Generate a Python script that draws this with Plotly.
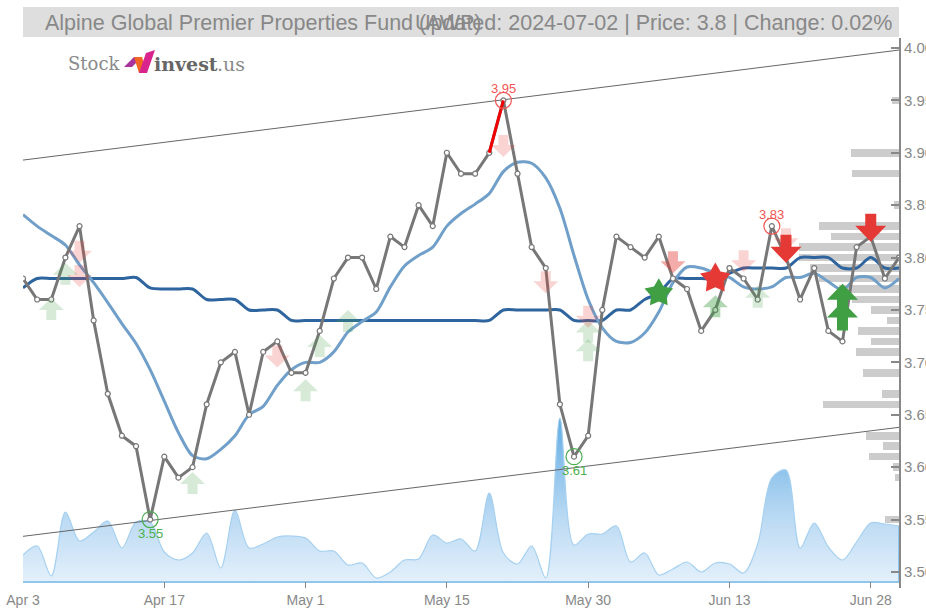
import math
import plotly.graph_objects as go

# ---------- data ----------
price = [3.78,3.76,3.76,3.80,3.83,3.74,3.67,3.63,3.62,3.55,3.61,3.59,3.60,3.66,3.70,3.71,3.65,3.71,3.72,3.69,3.69,
         3.73,3.78,3.80,3.80,3.77,3.82,3.81,3.85,3.83,3.90,3.88,3.88,3.90,3.95,3.88,3.81,3.79,3.66,3.61,3.63,
         3.75,3.82,3.81,3.80,3.82,3.78,3.77,3.73,3.75,3.79,3.78,3.76,3.83,3.80,3.76,3.79,3.73,3.72,3.81,3.82,3.78,3.80]
ma_fast = [3.841,3.830,3.821,3.812,3.793,3.776,3.757,3.737,3.718,3.693,3.663,3.633,3.611,3.608,3.617,3.630,3.650,3.658,
           3.678,3.693,3.700,3.700,3.710,3.729,3.739,3.748,3.772,3.792,3.802,3.810,3.830,3.842,3.851,3.861,3.882,3.891,
           3.890,3.876,3.847,3.802,3.760,3.733,3.720,3.719,3.728,3.748,3.776,3.791,3.790,3.785,3.781,3.772,3.770,3.772,
           3.781,3.781,3.785,3.777,3.769,3.781,3.781,3.771,3.780]
ma_slow = [3.771,3.78,3.78,3.78,3.78,3.78,3.78,3.78,3.781,3.771,3.77,3.77,3.77,3.76,3.76,3.76,3.75,3.75,3.75,3.74,3.74,
           3.74,3.74,3.74,3.74,3.74,3.74,3.74,3.74,3.74,3.74,3.74,3.74,3.74,3.75,3.75,3.75,3.75,3.75,3.74,3.74,
           3.74,3.75,3.75,3.76,3.766,3.78,3.78,3.78,3.78,3.785,3.79,3.79,3.79,3.79,3.80,3.80,3.80,3.79,3.79,3.80,3.79,3.79]
volume = [27,36,6,70,41,50,61,34,60,60,30,22,29,49,14,72,34,38,45,46,44,31,31,17,19,4,10,22,23,47,39,43,31,89,29,18,
          36,4,164,37,48,48,56,20,29,7,13,20,10,19,18,9,38,104,112,34,59,35,22,40,59,58,56]
tick_idx = [0,10,20,30,40,50,60]
tick_labels = ["Apr 3","Apr 17","May 1","May 15","May 30","Jun 13","Jun 28"]
price_ticks = [3.50,3.55,3.60,3.65,3.70,3.75,3.80,3.85,3.90,3.95,4.00]

profile_price = [3.95,3.90,3.88,3.85,3.83,3.82,3.81,3.80,3.79,3.78,3.77,3.76,3.75,3.74,3.73,3.72,3.71,3.69,3.67,3.66,
                 3.63,3.62,3.61,3.60,3.59,3.55]
profile_size = [7,48,47,5,80,68,100,100,89,80,60,47,28,12,41,28,43,36,17,76,33,16,30,6,4,14]

channel_up = [3.893,3.998]
channel_low = [3.534,3.638]
channel_idx = [0,62]

high_idx = [34,53]
low_idx = [9,39]

up_weak_idx = [2,3,12,20,21,23,40,40,52]
up_weak_val = [3.7615,3.795,3.5954,3.684,3.726,3.75,3.74,3.722,3.773]
up_mid_idx = [49]
up_mid_val = [3.764]
down_weak_idx = [4,4,18,34,37,40,51,54]
down_weak_val = [3.795,3.772,3.695,3.896,3.766,3.733,3.786,3.807]
down_mid_idx = [46]
down_mid_val = [3.785]
up_strong_idx = [58,58]
up_strong_val = [3.775,3.758]
down_strong_idx = [54,60]
down_strong_val = [3.795,3.815]
star_green_idx, star_green_val = [45], [3.766]
star_red_idx, star_red_val = [49], [3.78]

# ---------- layout geometry ----------
W, H = 926, 610
L, R, T, B = 23, 899, 38, 588
y_lo, y_hi = 3.4847, 4.0095
GREY = "#888888"
idx = list(range(len(price)))

def px(x): return (x - L) / (R - L)
def py(y): return 1 - (y - T) / (B - T)

fig = go.Figure()

# volume profile (behind everything)
fig.add_trace(go.Bar(y=profile_price, x=profile_size, orientation="h", width=0.0072,
                     marker=dict(color="#cccccc", line_width=0), xaxis="x", yaxis="y", hoverinfo="skip"))

# volume area
fig.add_trace(go.Scatter(x=idx, y=volume, mode="lines", xaxis="x2", yaxis="y2",
                         line=dict(color="#a5d0f0", width=1.2, shape="spline", smoothing=0.9),
                         fill="tozeroy",
                         fillgradient=dict(type="vertical", start=0, stop=max(volume),
                                           colorscale=[[0, "#e4f0fb"], [0.4, "#b9d9f3"], [1, "#62ace3"]])))
fig.add_trace(go.Scatter(x=[idx[0], idx[-1]], y=[0, 0], mode="lines", xaxis="x2", yaxis="y2",
                         line=dict(color="#92c5ec", width=2)))
fig.add_trace(go.Scatter(x=[idx[-1], idx[-1]], y=[0, volume[-1]], mode="lines", xaxis="x2", yaxis="y2",
                         line=dict(color="#92c5ec", width=2)))

def on_price(**kw):
    fig.add_trace(go.Scatter(xaxis="x2", yaxis="y3", **kw))

# channel lines
on_price(x=channel_idx, y=channel_up, mode="lines", line=dict(color="#666666", width=1))
on_price(x=channel_idx, y=channel_low, mode="lines", line=dict(color="#666666", width=1))
# moving averages
on_price(x=idx, y=ma_slow, mode="lines", line=dict(color="#2f659f", width=3, shape="spline", smoothing=0.8))
on_price(x=idx, y=ma_fast, mode="lines", line=dict(color="#709fca", width=3, shape="spline", smoothing=0.8))
# price
on_price(x=idx, y=price, mode="lines+markers", line=dict(color="#777777", width=3),
         marker=dict(size=5, color="white", line=dict(color="#777777", width=1.2)))
on_price(x=[33, 34], y=price[33:35], mode="lines", line=dict(color="#f00000", width=3))
# highs and lows
on_price(x=high_idx, y=[price[i] for i in high_idx], mode="markers",
         marker=dict(symbol="circle-open", size=16, color="#f05555", line=dict(width=1.2)))
on_price(x=low_idx, y=[price[i] for i in low_idx], mode="markers",
         marker=dict(symbol="circle-open", size=16, color="#4caf50", line=dict(width=1.2)))
for i in high_idx:
    fig.add_annotation(xref="x2", yref="y3", x=i, y=price[i], yshift=12, text=f"{price[i]:.2f}", showarrow=False,
                       yanchor="middle", font=dict(family="Liberation Sans", size=13, color="#f05555"))
for i in low_idx:
    fig.add_annotation(xref="x2", yref="y3", x=i, y=price[i], yshift=-14, text=f"{price[i]:.2f}", showarrow=False,
                       yanchor="middle", font=dict(family="Liberation Sans", size=13, color="#4caf50"))

def pixel_shape(i, v, path, color, opacity):
    fig.add_shape(type="path", xref="x2", yref="y3", xsizemode="pixel", ysizemode="pixel",
                  xanchor=i, yanchor=v, path=path, fillcolor=color, opacity=opacity, line_width=0, layer="above")

# five-pointed stars with a fat body
def star_path(r, inner=0.55):
    pts = []
    for k in range(10):
        rad = r if k % 2 == 0 else r * inner
        a = math.pi / 2 + k * math.pi / 5
        pts.append((round(rad * math.cos(a), 2), round(rad * math.sin(a), 2)))
    return "M " + " L ".join(f"{x} {y}" for x, y in pts) + " Z"

for i, v in zip(star_green_idx, star_green_val):
    pixel_shape(i, v, star_path(15), "#3f9f42", 1)
for i, v in zip(star_red_idx, star_red_val):
    pixel_shape(i, v, star_path(16), "#e53935", 1)

# block arrows: tip sits at the anchor, size in pixels
def arrow_path(w, h, head, tail, up):
    s = -1 if up else 1
    a, b, c = w / 2, tail / 2, head
    pts = [(0, 0), (a, s * c), (b, s * c), (b, s * h), (-b, s * h), (-b, s * c), (-a, s * c)]
    return "M " + " L ".join(f"{x} {y}" for x, y in pts) + " Z"

def arrows(ids, vals, up, color, opacity, w, h, head, tail):
    for i, v in zip(ids, vals):
        pixel_shape(i, v, arrow_path(w, h, head, tail, up), color, opacity)

arrows(up_weak_idx, up_weak_val, True, "#43a047", 0.22, 25, 22, 12, 10)
arrows(up_mid_idx, up_mid_val, True, "#43a047", 0.42, 25, 22, 12, 10)
arrows(down_weak_idx, down_weak_val, False, "#e53935", 0.22, 25, 22, 12, 10)
arrows(down_mid_idx, down_mid_val, False, "#e53935", 0.42, 25, 22, 12, 10)
arrows(up_strong_idx, up_strong_val, True, "#3f9f42", 1, 31, 29, 16, 11)
arrows(down_strong_idx, down_strong_val, False, "#e53935", 1, 31, 28, 16, 11)

# title band
fig.add_shape(type="rect", xref="paper", yref="paper", x0=0, x1=1, y0=py(37), y1=py(7),
              fillcolor="#dedede", line_width=0, layer="below")

def note(text, x, y, anchor, size, color, family="Liberation Sans"):
    fig.add_annotation(xref="paper", yref="paper", x=px(x), y=py(y), text=text, showarrow=False,
                       xanchor=anchor, yanchor="middle", borderpad=0, borderwidth=0,
                       font=dict(family=family, size=size, color=color))

note("Alpine Global Premier Properties Fund (AWP)", 45, 22.5, "left", 21.5, GREY)
note("Updated: 2024-07-02 | Price: 3.8 | Change: 0.02%", 892, 22.5, "right", 21.5, GREY)

# logo
note("Stock", 68, 64, "left", 18, "#8a8a8a", "DejaVu Serif")
note("<b>invest</b>", 154, 64, "left", 19, "#666666", "DejaVu Serif")
note(".us", 217, 64, "left", 19, "#8a8a8a", "DejaVu Serif")
for pts, col in [([(124,67),(134,57),(142,57),(132,67)], "#a8339c"),
                 ([(134,57),(142,57),(147,73),(139,73)], "#f26522"),
                 ([(139,73),(147,73),(155,50),(146,53)], "#d8248c")]:
    path = "M " + " L ".join(f"{px(a)} {py(b)}" for a, b in pts) + " Z"
    fig.add_shape(type="path", xref="paper", yref="paper", path=path, fillcolor=col, line_width=0, layer="above")

tickfont_x = dict(family="Liberation Sans", size=14, color=GREY)
tickfont_y = dict(family="Liberation Sans", size=15, color=GREY)

fig.update_layout(
    template="none",
    width=W, height=H, autosize=False, showlegend=False, plot_bgcolor="white", paper_bgcolor="white",
    margin=dict(l=L, r=W - R, t=T, b=H - B, pad=0), bargap=0, hovermode=False,
    xaxis=dict(range=[R - L, 0], visible=False, automargin=False),
    xaxis2=dict(range=[0, 62], overlaying="x", side="bottom", showgrid=False, zeroline=False, showline=False,
                automargin=False, tickmode="array", tickvals=tick_idx, ticktext=tick_labels, ticks="inside",
                ticklen=6, tickcolor=GREY, tickwidth=1, tickfont=tickfont_x, ticklabelstandoff=2),
    yaxis=dict(range=[y_lo, y_hi], visible=False, automargin=False),
    yaxis2=dict(range=[-6, 544], overlaying="y", visible=False, automargin=False),
    yaxis3=dict(range=[y_lo, y_hi], overlaying="y", side="right", anchor="x", showgrid=False, zeroline=False,
                automargin=False, showline=True, linecolor=GREY, linewidth=2,
                tickmode="array", tickvals=price_ticks + [y_hi],
                ticktext=[f"{v:.2f}" for v in price_ticks] + [""],
                ticks="inside", ticklen=8, tickcolor=GREY, tickwidth=1.5, tickfont=tickfont_y),
)

fig.write_html("out.html", config={"displayModeBar": False},
               post_script="document.body.style.margin='0';document.body.style.overflow='hidden';")
